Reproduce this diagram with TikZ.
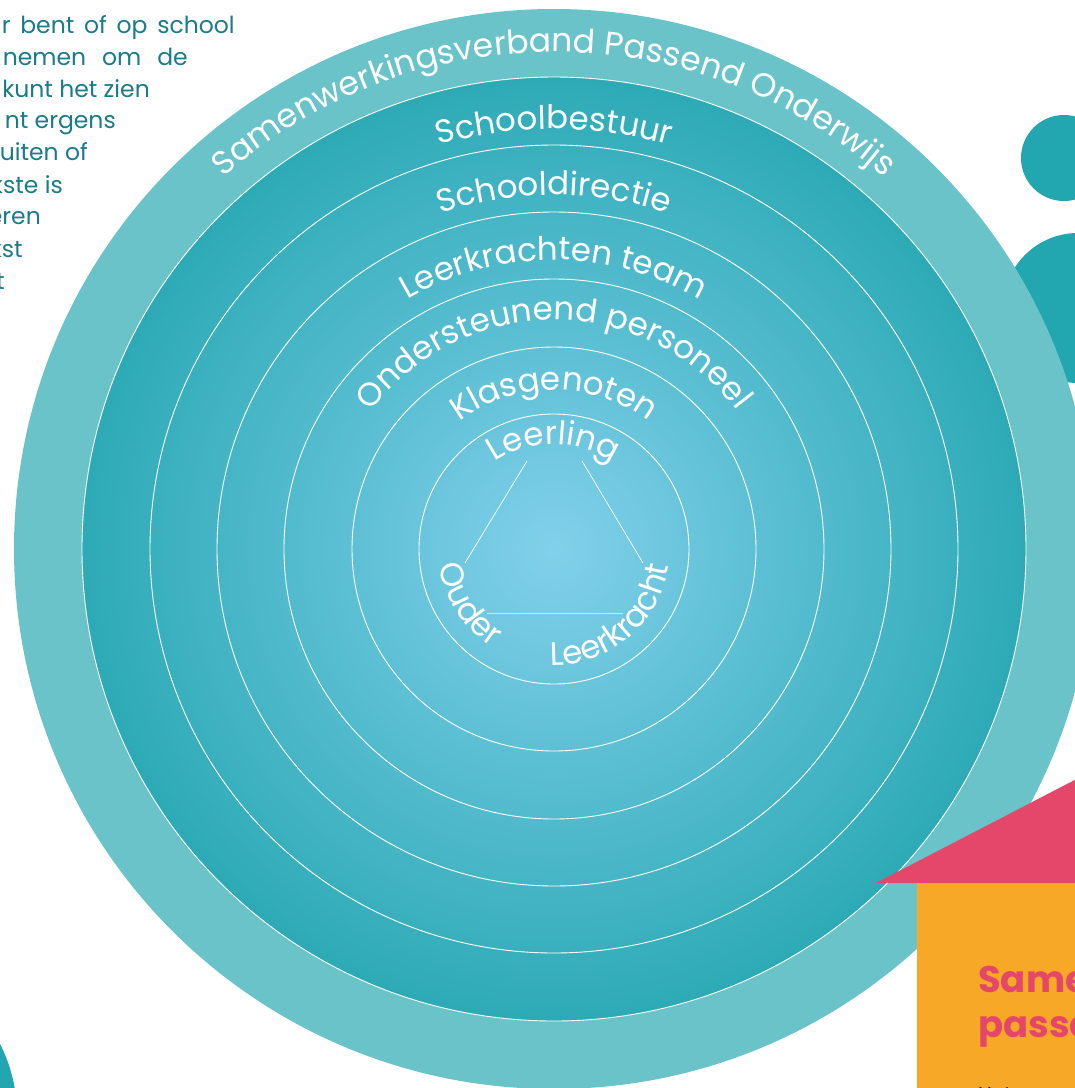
\documentclass[tikz,border=0pt]{standalone}
\usepackage{fontspec}
\setmainfont{Poppins}
\usetikzlibrary{decorations.text}
\definecolor{outerband}{HTML}{6AC3C8}
\definecolor{ringout}{HTML}{2DAAB6}
\definecolor{ringin}{HTML}{82D0EB}
\definecolor{dotteal}{HTML}{22A6B0}
\definecolor{roofpink}{HTML}{E5476A}
\definecolor{boxorange}{HTML}{F6A826}
\definecolor{bodyteal}{HTML}{1A7C87}
\pgfdeclareradialshading{ringshade}{\pgfpoint{0bp}{0bp}}{color(0bp)=(ringin); color(25bp)=(ringout); color(50bp)=(ringout)}
\begin{document}
\begin{tikzpicture}[x=1pt,y=1pt,
  ringline/.style={white, line width=0.9pt},
  toplabel/.style={decorate, decoration={text along path, text align=center, text color=white,
     text={|\fontsize{32.5}{32.5}\selectfont|#1}}},
  bigtoplabel/.style={decorate, decoration={text along path, text align=center, text color=white,
     text={|\fontsize{33}{33}\selectfont|#1}}},
  tieline/.style={white, line width=0.7pt},
  bodytext/.style={text=bodyteal, font=\fontsize{23.5}{23.5}\selectfont, inner sep=0pt, anchor=base east},
  pinktitle/.style={text=roofpink, font=\fontsize{37}{37}\selectfont\bfseries, inner sep=0pt, anchor=base west}
]
\useasboundingbox (0,0) rectangle (1075,-1088);
\clip (0,0) rectangle (1075,-1088);
\fill[white] (0,0) rectangle (1075,-1088);
\coordinate (C) at (554,-549);

% side dots
\fill[dotteal] (1064,-158) circle[radius=43];
\fill[dotteal] (1078,-308) circle[radius=75];
\fill[dotteal] (-140,-1115) circle[radius=157];

% rings
\fill[outerband] (C) circle[radius=540];
\shade[shading=ringshade] (C) circle[radius=472];
\foreach \r in {472,404,337,270,202,135} \draw[ringline] (C) circle[radius=\r];

% ring labels
\path[bigtoplabel={Samenwerkingsverband Passend Onderwijs}] ([shift={(180:497)}]C) arc[start angle=180, end angle=0, radius=497];
\path[toplabel={Schoolbestuur}] ([shift={(180:420)}]C) arc[start angle=180, end angle=0, radius=420];
\path[toplabel={Schooldirectie}] ([shift={(180:354)}]C) arc[start angle=180, end angle=0, radius=354];
\path[toplabel={Leerkrachten team}] ([shift={(180:289)}]C) arc[start angle=180, end angle=0, radius=289];
\path[toplabel={Ondersteunend personeel}] ([shift={(180:229)}]C) arc[start angle=180, end angle=0, radius=229];
\path[toplabel={Klasgenoten}] ([shift={(180:159)}]C) arc[start angle=180, end angle=0, radius=159];
\path[toplabel={Leerling}] ([shift={(180:105)}]C) arc[start angle=180, end angle=0, radius=105];
\path[toplabel={Ouder}] ([shift={(163:116)}]C) arc[start angle=163, end angle=263, radius=116];
\path[toplabel={Leerkracht}] ([shift={(250:116)}]C) arc[start angle=250, end angle=370, radius=116];

% triangle
\coordinate (lA) at (527,-461); \coordinate (oA) at (465,-563);
\coordinate (lB) at (582,-461); \coordinate (kB) at (643,-563);
\coordinate (oC) at (487,-613); \coordinate (kC) at (623,-613);
\draw[tieline] (lA) -- (oA);
\draw[tieline] (lB) -- (kB);
\draw[tieline, opacity=0.6] (oC) -- (kC);

% house
\fill[roofpink] (876,-883) -- (1200,-715) -- (1200,-883) -- cycle;
\fill[boxorange] (917,-883) rectangle (1200,-1100);
\node[pinktitle] (t1) at (978,-992) {Same};
\node[pinktitle] (t2) at (978,-1037) {passe};
\node[inner sep=0pt, anchor=base west, font=\fontsize{20}{20}\selectfont, text=black] (t3) at (978,-1101) {Het};

% left text fragments
\node[bodytext] (b1) at (235,-33) {\makebox[233pt][s]{r bent of op school}};
\node[bodytext] (b2) at (188,-65) {\makebox[185pt][s]{nemen om de}};
\node[bodytext] (b3) at (150,-97) {kunt het zien};
\node[bodytext] (b4) at (116,-128) {nt ergens};
\node[bodytext] (b5) at (88,-160) {uiten of};
\node[bodytext] (b6) at (63,-193) {kste is};
\node[bodytext] (b7) at (41,-224) {eren};
\node[bodytext] (b8) at (23,-257) {kst};
\node[bodytext] (b9) at (5,-289) {t};
\end{tikzpicture}
\end{document}
